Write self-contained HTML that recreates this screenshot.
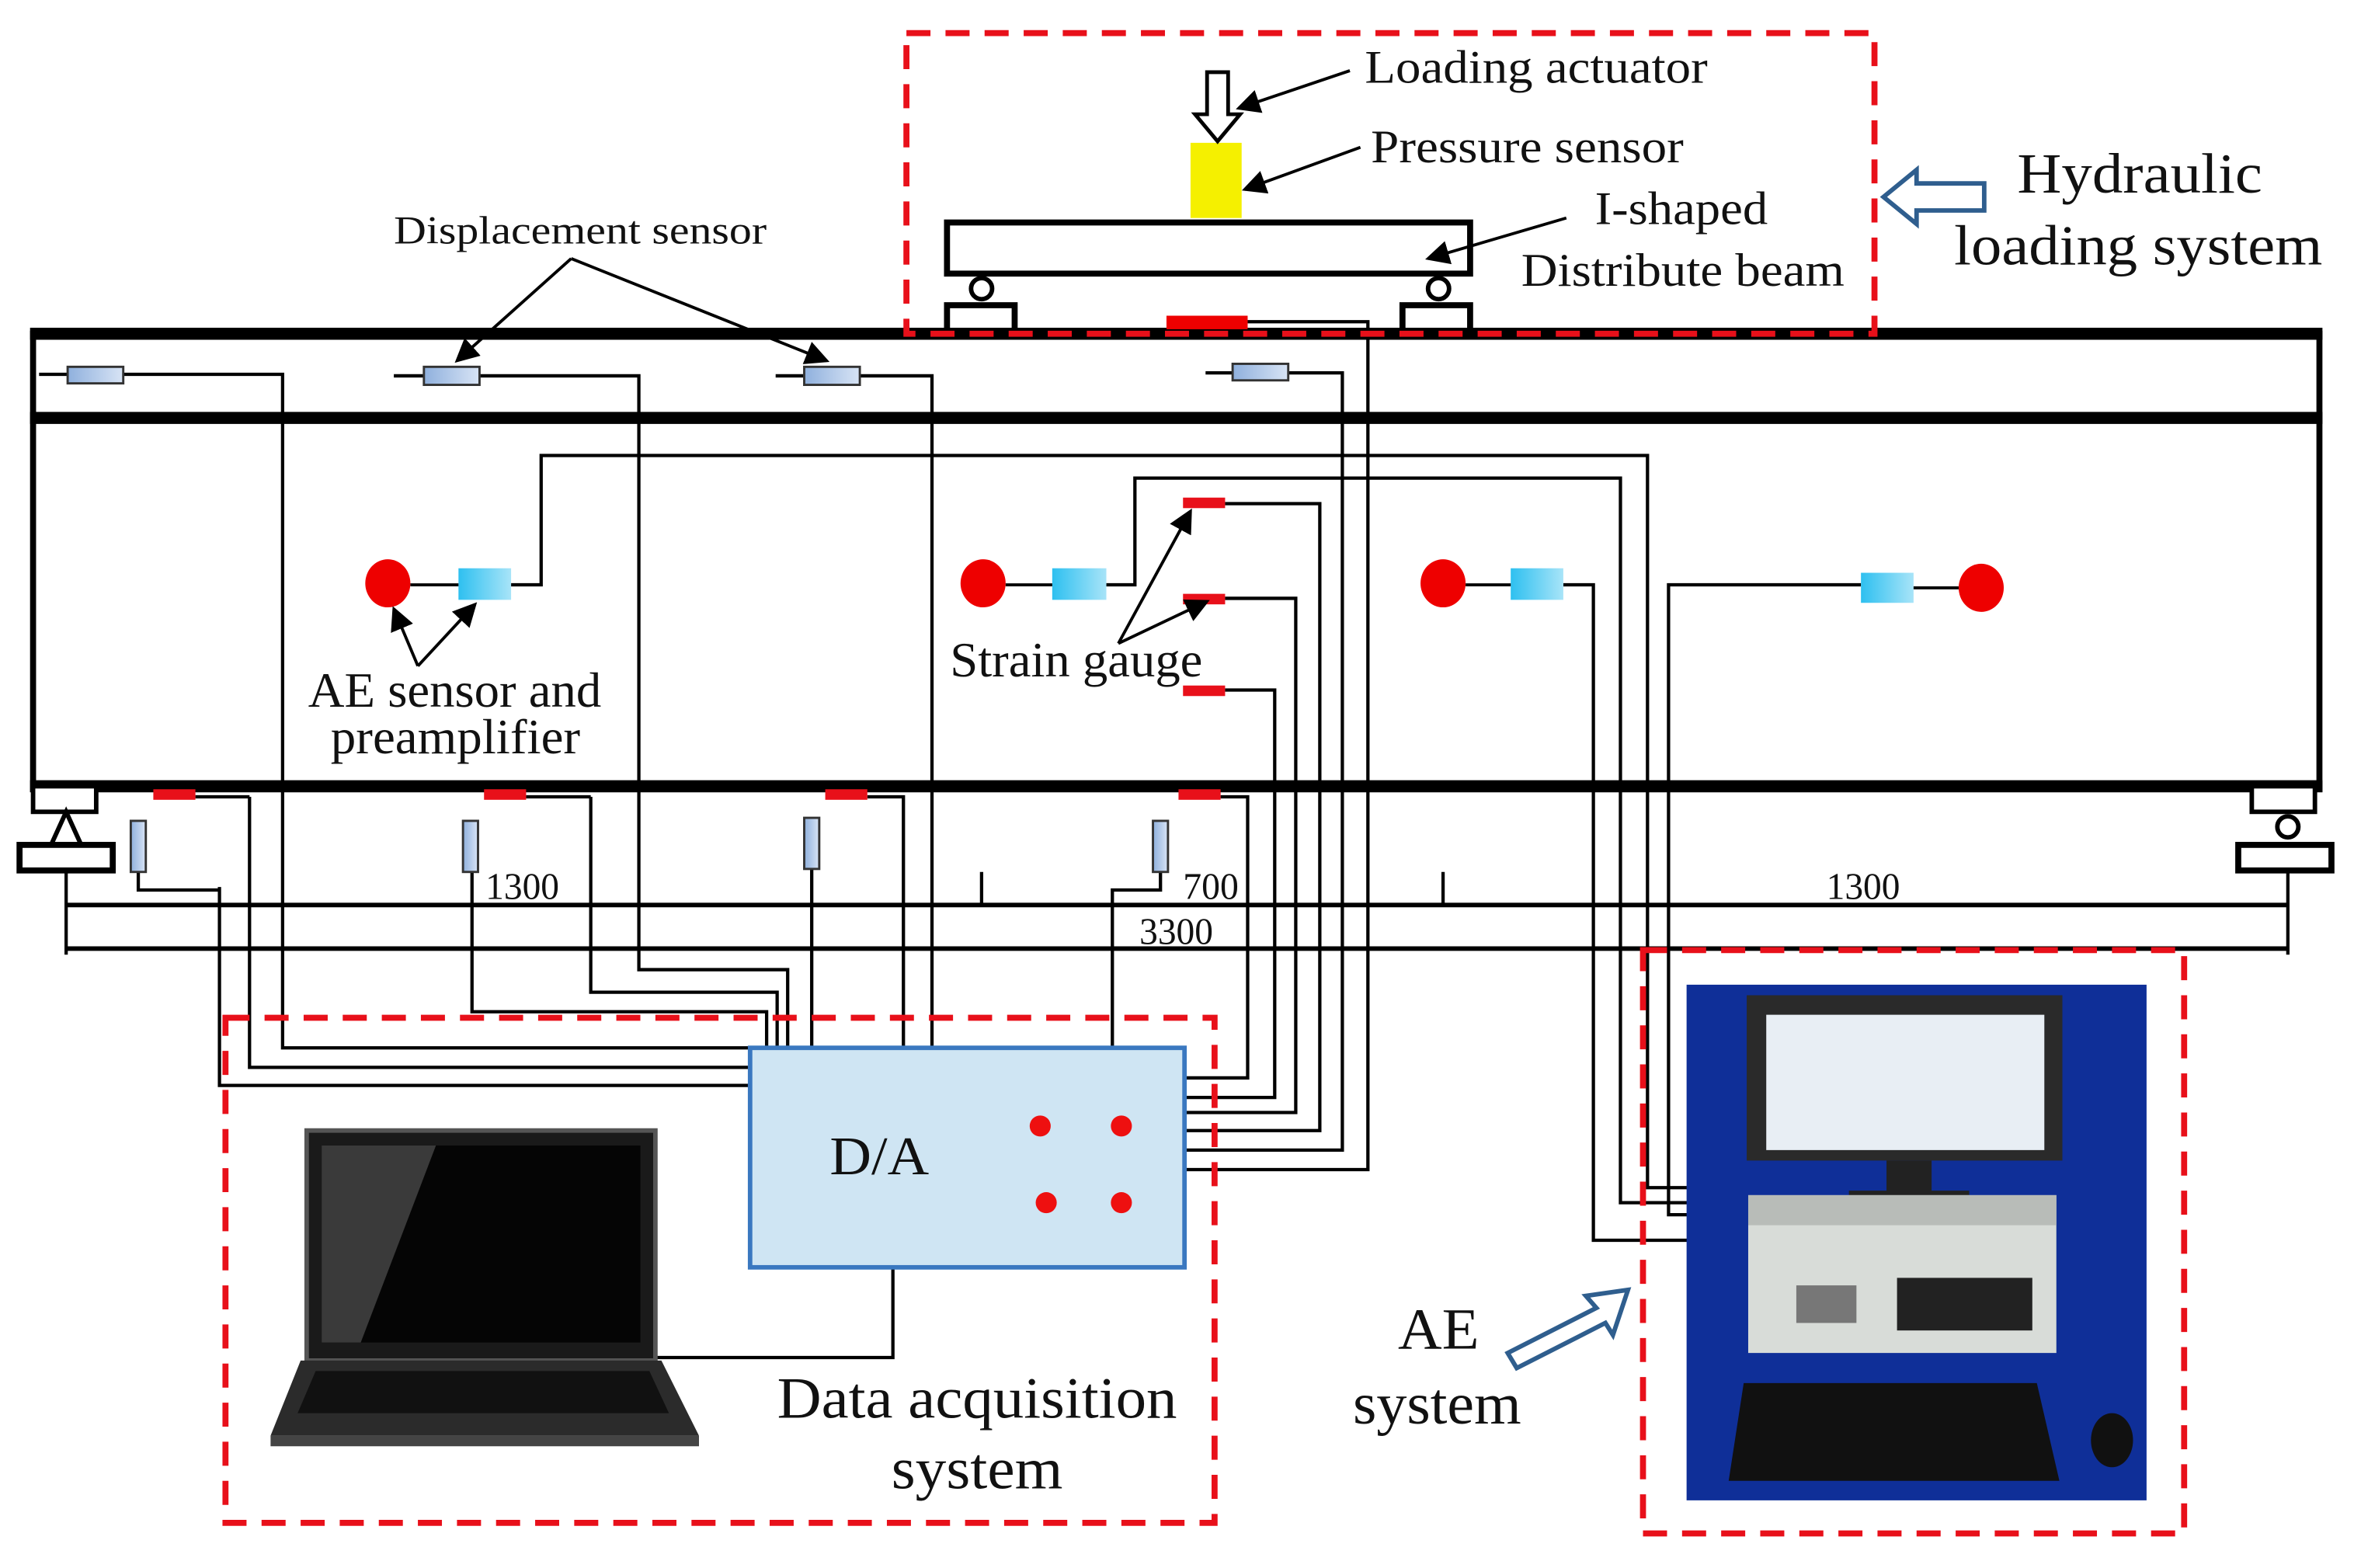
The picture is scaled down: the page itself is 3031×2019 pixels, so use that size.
<!DOCTYPE html>
<html><head><meta charset="utf-8"><style>html,body{margin:0;padding:0;background:#fff}svg{display:block}text{font-family:"Liberation Serif",serif;fill:#111}</style></head><body>
<svg width="3031" height="2019" viewBox="0 0 1566 1043" preserveAspectRatio="none" xmlns="http://www.w3.org/2000/svg">
<defs><marker id="ah" markerWidth="8" markerHeight="8" refX="7" refY="4" orient="auto"><path d="M0,0 L8,4 L0,8 z" fill="#000"/></marker>
<linearGradient id="sb" x1="0" x2="1"><stop offset="0" stop-color="#8fb0dd"/><stop offset="1" stop-color="#d8e4f5"/></linearGradient>
<linearGradient id="cy" x1="0" x2="1"><stop offset="0" stop-color="#2ec0f0"/><stop offset="1" stop-color="#a8e4f8"/></linearGradient></defs>
<g fill="none" stroke="#000" stroke-width="2.2">
<path d="M82,249H188V697H499"/><path d="M319,250H425V645H524V697"/><path d="M572,250H620V697"/><path d="M857,248H893V765H788"/>
<path d="M146,590V722H499"/><path d="M92,580V592H146"/><path d="M166,530V710H499"/><path d="M130,530H166"/>
<path d="M314,580V673H510V697"/><path d="M393,530V660H517V697"/><path d="M350,530H393"/>
<path d="M540,578V697"/><path d="M577,530H601V697"/><path d="M772,580V592H740V697"/>
<path d="M812,530H830V717H788"/><path d="M815,459H848V730H788"/><path d="M815,398H862V740H788"/><path d="M815,335H878V752H788"/>
<path d="M830,214H910V778H788"/>
<path d="M340,389H360V303H1096V790H1195"/><path d="M736,389H755V318H1078V800H1195"/><path d="M1040,389H1060V825H1190"/><path d="M1238,389H1110V808H1195"/>
<path d="M594,843V903H437"/>
<path d="M26,249H45M262,250H282M516,250H535M802,248H820"/>
<path d="M653,580V603M960,580V603"/>
<path d="M44,580V635M1522,580V635"/>
</g>
<g stroke="#000" fill="none"><rect x="22" y="222" width="1521" height="303" stroke-width="4"/>
<path d="M20,222H1545M20,278H1545M20,523H1545" stroke-width="8"/>
<path d="M44,602H1522M44,631H1522" stroke-width="3"/></g>
<rect x="630" y="148" width="348" height="34" fill="#fff" stroke="#000" stroke-width="4"/>
<rect x="792" y="95" width="34" height="50" fill="#f5f000"/>
<path d="M803,48h14v28h8l-15,18-15-18h8z" fill="#fff" stroke="#000" stroke-width="2.5"/>
<circle cx="653" cy="192" r="7" fill="#fff" stroke="#000" stroke-width="3"/><circle cx="957" cy="192" r="7" fill="#fff" stroke="#000" stroke-width="3"/>
<path d="M630,218V203h45v15M933,218V203h45v15" fill="none" stroke="#000" stroke-width="4"/>
<rect x="776" y="210" width="54" height="9" fill="#e00"/>
<rect x="603" y="22" width="644" height="200" fill="none" stroke="#e8101a" stroke-width="4" stroke-dasharray="16,10"/>
<rect x="22" y="523" width="42" height="17" fill="#fff" stroke="#000" stroke-width="3"/><path d="M44,540L34,562H54Z" fill="none" stroke="#000" stroke-width="3"/><rect x="13" y="562" width="62" height="17" fill="#fff" stroke="#000" stroke-width="4"/>
<rect x="1498" y="523" width="42" height="17" fill="#fff" stroke="#000" stroke-width="3"/><circle cx="1522" cy="550" r="7" fill="#fff" stroke="#000" stroke-width="3"/><rect x="1489" y="562" width="62" height="17" fill="#fff" stroke="#000" stroke-width="4"/>
<g fill="url(#sb)" stroke="#333" stroke-width="1.5"><rect x="45" y="244" width="37" height="11"/><rect x="282" y="244" width="37" height="12"/><rect x="535" y="244" width="37" height="12"/><rect x="820" y="242" width="37" height="11"/>
<rect x="87" y="546" width="10" height="34"/><rect x="308" y="546" width="10" height="34"/><rect x="535" y="544" width="10" height="34"/><rect x="767" y="546" width="10" height="34"/></g>
<g fill="#e8101a"><rect x="102" y="525" width="28" height="7"/><rect x="322" y="525" width="28" height="7"/><rect x="549" y="525" width="28" height="7"/><rect x="784" y="525" width="28" height="7"/>
<rect x="787" y="331" width="28" height="7"/><rect x="787" y="395" width="28" height="7"/><rect x="787" y="456" width="28" height="7"/></g>
<g fill="#ee0000"><ellipse cx="258" cy="388" rx="15" ry="16"/><ellipse cx="654" cy="388" rx="15" ry="16"/><ellipse cx="960" cy="388" rx="15" ry="16"/><ellipse cx="1318" cy="391" rx="15" ry="16"/></g>
<g fill="url(#cy)"><rect x="305" y="378" width="35" height="21"/><rect x="700" y="378" width="36" height="21"/><rect x="1005" y="378" width="35" height="21"/><rect x="1238" y="381" width="35" height="20"/></g>
<path d="M273,389H305M669,389H700M975,389H1005M1273,391H1303" stroke="#000" stroke-width="2"/>
<g stroke="#000" stroke-width="2" marker-end="url(#ah)" fill="none">
<path d="M380,172L304,240"/><path d="M380,172L550,240"/>
<path d="M278,443L262,405"/><path d="M278,443L316,402"/>
<path d="M744,428L792,340"/><path d="M744,428L803,400"/>
<path d="M898,47L824,72"/><path d="M905,98L828,126"/><path d="M1042,145L950,172"/></g>
<rect x="499" y="697" width="289" height="146" fill="#cfe5f3" stroke="#3a78c0" stroke-width="3"/>
<g fill="#ee1010"><circle cx="692" cy="749" r="7"/><circle cx="746" cy="749" r="7"/><circle cx="696" cy="800" r="7"/><circle cx="746" cy="800" r="7"/></g>
<text x="552" y="781" font-size="36" textLength="66" lengthAdjust="spacingAndGlyphs">D/A</text>
<path d="M204,752H436V905H204Z" fill="#1a1a1a" stroke="#555" stroke-width="3"/>
<path d="M214,762H426V893H214Z" fill="#050505"/><path d="M214,762H290L240,893H214Z" fill="#3a3a3a"/>
<path d="M200,905H440L465,955H180Z" fill="#2b2b2b"/><path d="M210,912H432L445,940H198Z" fill="#111"/><path d="M180,955H465V962H180Z" fill="#444"/>
<rect x="150" y="677" width="658" height="336" fill="none" stroke="#e8101a" stroke-width="4" stroke-dasharray="16,10"/>
<rect x="1122" y="655" width="306" height="343" fill="#0f2f98"/>
<path d="M1162,662H1372V772H1162Z" fill="#2a2a2a"/><path d="M1175,675H1360V765H1175Z" fill="#e8eef4"/>
<path d="M1255,772h30v20h25v12h-80v-12h25z" fill="#222"/>
<path d="M1163,795H1368V900H1163Z" fill="#d8dcd8"/><path d="M1163,795H1368V815H1163Z" fill="#b8bcb8"/>
<rect x="1262" y="850" width="90" height="35" fill="#222"/><rect x="1195" y="855" width="40" height="25" fill="#777"/>
<path d="M1160,920H1355L1370,985H1150Z" fill="#111"/><ellipse cx="1405" cy="958" rx="14" ry="18" fill="#111"/>
<rect x="1093" y="632" width="360" height="388" fill="none" stroke="#e8101a" stroke-width="4" stroke-dasharray="16,10"/>
<path d="M1253,131L1275,113V122H1320V140H1275V149Z" fill="#fff" stroke="#2f5e8e" stroke-width="3"/>
<path d="M1083,858L1055,862L1062,870L1003,900L1009,910L1068,880L1073,888Z" fill="#fff" stroke="#2f5e8e" stroke-width="3"/>
<g lengthAdjust="spacingAndGlyphs">
<text x="908" y="55" font-size="31" textLength="228" lengthAdjust="spacingAndGlyphs">Loading actuator</text>
<text x="912" y="108" font-size="31" textLength="208" lengthAdjust="spacingAndGlyphs">Pressure sensor</text>
<text x="1061" y="149" font-size="31" textLength="115" lengthAdjust="spacingAndGlyphs">I-shaped</text>
<text x="1012" y="190" font-size="31" textLength="215" lengthAdjust="spacingAndGlyphs">Distribute beam</text>
<text x="1342" y="128" font-size="38" textLength="163" lengthAdjust="spacingAndGlyphs">Hydraulic</text>
<text x="1300" y="176" font-size="38" textLength="245" lengthAdjust="spacingAndGlyphs">loading system</text>
<text x="262" y="162" font-size="26" textLength="248" lengthAdjust="spacingAndGlyphs">Displacement sensor</text>
<text x="205" y="470" font-size="33" textLength="195" lengthAdjust="spacingAndGlyphs">AE sensor and</text>
<text x="220" y="501" font-size="33" textLength="166" lengthAdjust="spacingAndGlyphs">preamplifier</text>
<text x="632" y="450" font-size="33" textLength="168" lengthAdjust="spacingAndGlyphs">Strain gauge</text>
<text x="323" y="598" font-size="25" textLength="49" lengthAdjust="spacingAndGlyphs">1300</text><text x="787" y="598" font-size="25" textLength="37" lengthAdjust="spacingAndGlyphs">700</text><text x="1215" y="598" font-size="25" textLength="49" lengthAdjust="spacingAndGlyphs">1300</text><text x="758" y="628" font-size="25" textLength="49" lengthAdjust="spacingAndGlyphs">3300</text>
<text x="517" y="943" font-size="39" textLength="266" lengthAdjust="spacingAndGlyphs">Data acquisition</text>
<text x="593" y="990" font-size="39" textLength="114" lengthAdjust="spacingAndGlyphs">system</text>
<text x="930" y="897" font-size="39" textLength="54" lengthAdjust="spacingAndGlyphs">AE</text>
<text x="900" y="947" font-size="39" textLength="112" lengthAdjust="spacingAndGlyphs">system</text>
</g>
</svg>
</body></html>
